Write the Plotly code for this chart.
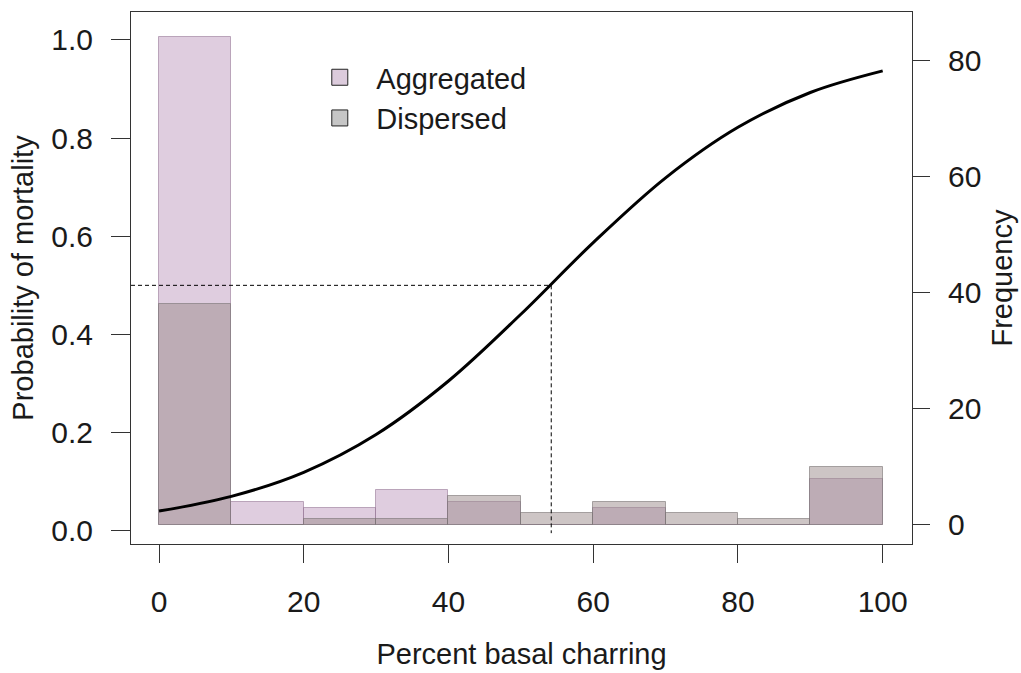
import plotly.graph_objects as go

# ---- data ----
bin_centers = [5, 15, 25, 35, 45, 55, 65, 75, 85, 95]
bin_width = 10
aggregated_freq = [84, 4, 3, 6, 4, 0, 3, 0, 0, 8]
dispersed_freq = [38, 0, 1, 1, 5, 2, 4, 2, 1, 10]

curve_x = [0, 10, 20, 30, 40, 50, 60, 70, 80, 90, 100]
curve_p = [0.040, 0.070, 0.119, 0.196, 0.305, 0.441, 0.587, 0.719, 0.822, 0.893, 0.937]

ld50_x = 54.2
ld50_p = 0.5

x_ticks = [0, 20, 40, 60, 80, 100]
prob_ticks = [0.0, 0.2, 0.4, 0.6, 0.8, 1.0]
prob_ticklabels = ["0.0", "0.2", "0.4", "0.6", "0.8", "1.0"]
freq_ticks = [0, 20, 40, 60, 80]

X_RANGE = [-3.87, 104.05]
PROB_RANGE = [-0.0271, 1.057]
FREQ_RANGE = [-3.27, 88.26]

AGG_FILL = "rgba(150,90,150,0.3)"
AGG_EDGE = "rgba(150,120,150,0.6)"
DISP_FILL = "rgba(155,140,140,0.5)"
DISP_EDGE = "rgba(120,115,115,0.6)"

FONT = "Liberation Sans, Arial, sans-serif"

fig = go.Figure()

# histograms on frequency axis (primary y, right side) -> drawn beneath
fig.add_trace(go.Bar(x=bin_centers, y=aggregated_freq, width=bin_width,
                     marker=dict(color=AGG_FILL, line=dict(color=AGG_EDGE, width=1)),
                     showlegend=False, yaxis="y", hoverinfo="skip"))
fig.add_trace(go.Bar(x=bin_centers, y=dispersed_freq, width=bin_width,
                     marker=dict(color=DISP_FILL, line=dict(color=DISP_EDGE, width=1)),
                     showlegend=False, yaxis="y", hoverinfo="skip"))

# dashed reference lines and fitted curve on probability axis (y2, left side) -> on top
fig.add_trace(go.Scatter(x=[X_RANGE[0], ld50_x], y=[ld50_p, ld50_p], mode="lines",
                         line=dict(color="black", width=1, dash="4px,3px"),
                         showlegend=False, yaxis="y2", hoverinfo="skip"))
fig.add_trace(go.Scatter(x=[ld50_x, ld50_x], y=[ld50_p, -0.005], mode="lines",
                         line=dict(color="black", width=1, dash="4px,3px"),
                         showlegend=False, yaxis="y2", hoverinfo="skip"))
fig.add_trace(go.Scatter(x=curve_x, y=curve_p, mode="lines",
                         line=dict(color="black", width=3, shape="spline", smoothing=1.0),
                         showlegend=False, yaxis="y2"))

# legend entries
fig.add_trace(go.Scatter(x=[None], y=[None], mode="markers", name="Aggregated",
                         marker=dict(symbol="square", size=16, color="#dccbdc",
                                     line=dict(color="#222", width=1)), yaxis="y2"))
fig.add_trace(go.Scatter(x=[None], y=[None], mode="markers", name="Dispersed",
                         marker=dict(symbol="square", size=16, color="#c6c6c6",
                                     line=dict(color="#222", width=1)), yaxis="y2"))

fig.update_layout(
    width=1021, height=673,
    margin=dict(l=131, r=109, t=12, b=129, pad=0, autoexpand=False),
    paper_bgcolor="white", plot_bgcolor="white",
    barmode="overlay", bargap=0,
    font=dict(family=FONT, size=29, color="#1a1a1a"),
    showlegend=True,
    legend=dict(x=0.2206, y=0.925, xanchor="left", yanchor="top",
                bgcolor="rgba(0,0,0,0)", borderwidth=0,
                font=dict(family=FONT, size=29, color="#1a1a1a"),
                itemwidth=63, tracegroupgap=0),
    xaxis=dict(range=X_RANGE, tickvals=x_ticks, ticks="outside", ticklen=18,
               tickwidth=1, tickcolor="#333", showline=True, mirror=True,
               linecolor="#333", linewidth=1, showgrid=False, zeroline=False,
               automargin=False,
               tickfont=dict(size=30), ticklabelstandoff=13,
               title=dict(text="Percent basal charring", standoff=26,
                          font=dict(size=29))),
    yaxis=dict(range=FREQ_RANGE, tickvals=freq_ticks, side="right",
               ticks="outside", ticklen=17, tickwidth=1, tickcolor="#333",
               showline=True, mirror=True, linecolor="#333", linewidth=1,
               showgrid=False, zeroline=False, tickfont=dict(size=30),
               automargin=False, ticklabelstandoff=12,
               title=dict(text="Frequency", standoff=11, font=dict(size=29))),
    yaxis2=dict(range=PROB_RANGE, tickvals=prob_ticks, ticktext=prob_ticklabels,
                overlaying="y", side="left", ticks="outside", ticklen=19,
                tickwidth=1, tickcolor="#333", showline=False, showgrid=False,
                zeroline=False, tickfont=dict(size=30), ticklabelstandoff=12,
                automargin=False,
                title=dict(text="Probability of mortality", standoff=9,
                           font=dict(size=29))),
)

fig.write_html("out.html")
